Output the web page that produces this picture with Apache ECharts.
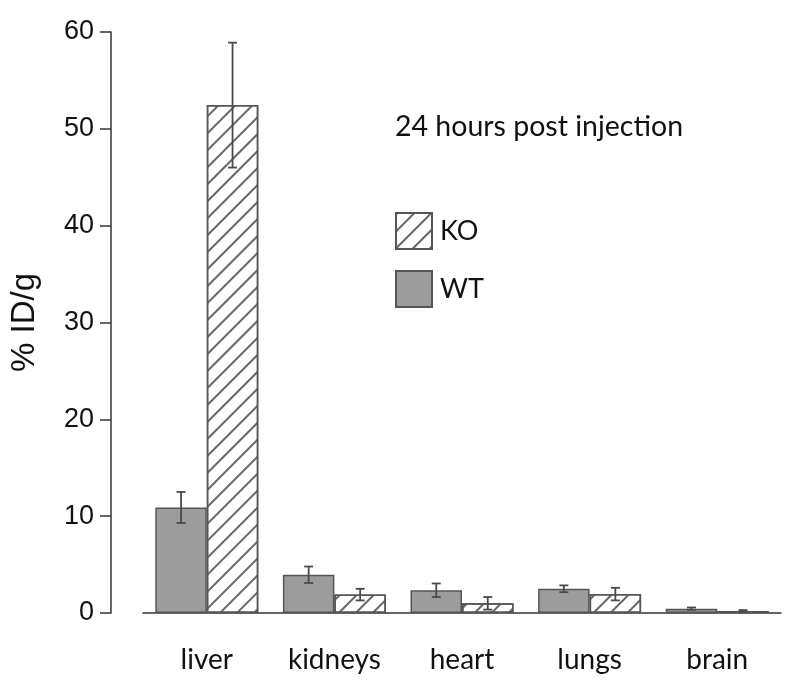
<!DOCTYPE html>
<html>
<head>
<meta charset="utf-8">
<script src="https://cdn.jsdelivr.net/npm/echarts@6/dist/echarts.min.js"></script>
<style>html,body{margin:0;padding:0;background:#fff;}#c{width:792px;height:685px;}</style>
</head>
<body>
<div id="c"></div>
<script>
const categories = ['liver', 'kidneys', 'heart', 'lungs', 'brain'];
const wtMean = [10.9, 3.95, 2.35, 2.5, 0.45];
const wtErr  = [1.6, 0.85, 0.7, 0.35, 0.12];
const koMean = [52.45, 1.9, 1.0, 1.95, 0.2];
const koErr  = [6.45, 0.6, 0.65, 0.65, 0.1];
const yTicks = [0, 10, 20, 30, 40, 50, 60];

const BAR_W = 51.5;
const chart = echarts.init(document.getElementById('c'), null, {renderer: 'canvas'});

function errSeries(name, means, errs, side) {
  return {
    type: 'custom',
    name: name + ' err',
    z: 5,
    silent: true,
    data: means.map((m, i) => [i, m, errs[i]]),
    renderItem: function (params, api) {
      const i = api.value(0), m = api.value(1), e = api.value(2);
      const top = api.coord([i, m + e]);
      const bot = api.coord([i, Math.max(0, m - e)]);
      const x = top[0] + side * BAR_W / 2;
      const cw = 4.5;
      const st = {stroke: '#4a4a4a', lineWidth: 1.8};
      return {
        type: 'group',
        children: [
          {type: 'line', shape: {x1: x, y1: top[1], x2: x, y2: bot[1]}, style: st},
          {type: 'line', shape: {x1: x - cw, y1: top[1], x2: x + cw, y2: top[1]}, style: st},
          {type: 'line', shape: {x1: x - cw, y1: bot[1], x2: x + cw, y2: bot[1]}, style: st}
        ]
      };
    }
  };
}

const option = {
  animation: false,
  backgroundColor: '#fff',
  title: {
    text: '24 hours post injection',
    left: 390, top: 107,
    textStyle: {fontFamily: 'Lato', fontSize: 28.5, fontWeight: 'normal', color: '#111'}
  },
  legend: {
    orient: 'vertical',
    left: 390, top: 207,
    icon: 'rect',
    itemWidth: 36, itemHeight: 36, itemGap: 20,
    data: ['KO', 'WT'],
    textStyle: {fontFamily: 'Lato', fontSize: 27, color: '#111', padding: [0, 0, 0, 3]}
  },
  grid: {left: 142, right: 11, top: 32, bottom: 72, containLabel: false},
  xAxis: {
    type: 'category',
    data: categories,
    axisLine: {lineStyle: {color: '#333', width: 1.5}},
    axisTick: {show: false},
    axisLabel: {fontFamily: 'Lato', fontSize: 28, color: '#111', margin: 33}
  },
  yAxis: {
    type: 'value',
    min: yTicks[0], max: yTicks[yTicks.length - 1], interval: 10,
    offset: 32,
    name: '% ID/g',
    nameLocation: 'middle',
    nameGap: 70,
    nameTextStyle: {fontFamily: 'Liberation Sans', fontSize: 33, color: '#111'},
    axisLine: {show: true, lineStyle: {color: '#333', width: 1.5}},
    axisTick: {show: true, length: 11, lineStyle: {color: '#333', width: 1.5}},
    axisLabel: {fontFamily: 'Liberation Sans', fontSize: 27, color: '#111', margin: 17},
    splitLine: {show: false}
  },
  series: [
    {
      type: 'bar', name: 'WT', data: wtMean,
      barWidth: BAR_W, barGap: '0%',
      itemStyle: {color: '#9c9c9c', borderColor: '#555', borderWidth: 1.5}
    },
    {
      type: 'bar', name: 'KO', data: koMean,
      barWidth: BAR_W, barGap: '0%',
      itemStyle: {
        color: '#fff', borderColor: '#555', borderWidth: 1.5,
        decal: {symbol: 'rect', symbolSize: 1, color: '#666', dashArrayX: [1, 0], dashArrayY: [2, 9.5], rotation: -Math.PI / 4}
      }
    },
    errSeries('WT', wtMean, wtErr, -1),
    errSeries('KO', koMean, koErr, 1)
  ]
};
chart.setOption(option);
</script>
</body>
</html>
